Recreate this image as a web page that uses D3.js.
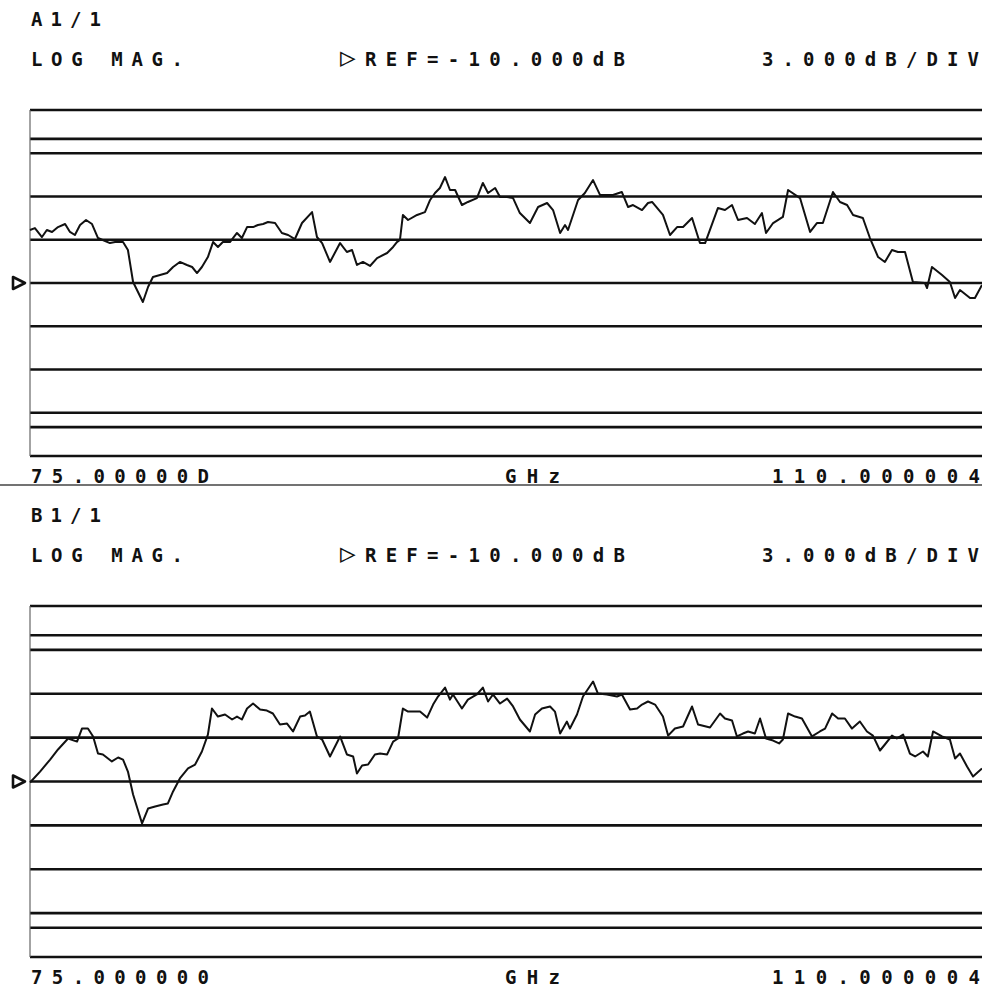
<!DOCTYPE html>
<html>
<head>
<meta charset="utf-8">
<script src="https://cdn.jsdelivr.net/npm/d3@7"></script>
<style>
  body { margin: 0; background: #fff; }
  text { font-family: "DejaVu Sans Mono", monospace; font-weight: bold; fill: #111; }
</style>
</head>
<body>
<div id="chart"></div>
<script>
const width = 982;
const height = 989;

// frequency sweep and scale settings
const fStart = 75, fStop = 110;
const refLevel = -10, dbPerDiv = 3, nDiv = 8;
const limitLines = [0, -20];

// trace A1/1 : [GHz, dB]
const traceA = [
  [75.00,-6.32],[75.18,-6.19],[75.44,-6.81],[75.62,-6.32],[75.81,-6.46],[76.03,-6.12],[76.29,-5.91],
  [76.47,-6.46],[76.65,-6.67],[76.84,-5.98],[77.06,-5.63],[77.28,-5.91],[77.50,-6.88],[77.94,-7.23],
  [78.13,-7.16],[78.42,-7.16],[78.60,-7.71],[78.79,-9.93],[79.15,-11.32],[79.34,-10.28],[79.52,-9.58],
  [79.78,-9.45],[80.04,-9.31],[80.26,-8.89],[80.51,-8.54],[80.77,-8.75],[80.96,-8.89],[81.14,-9.31],
  [81.32,-8.89],[81.54,-8.20],[81.73,-7.16],[81.91,-7.50],[82.09,-7.16],[82.35,-7.16],[82.61,-6.53],
  [82.79,-6.88],[82.98,-6.12],[83.20,-6.12],[83.38,-5.98],[83.57,-5.91],[83.75,-5.77],[84.01,-5.84],
  [84.26,-6.53],[84.49,-6.67],[84.74,-6.95],[85.00,-5.84],[85.37,-5.08],[85.55,-6.81],[85.74,-7.23],
  [86.03,-8.54],[86.40,-7.23],[86.65,-7.85],[86.84,-7.71],[87.02,-8.75],[87.24,-8.54],[87.50,-8.82],
  [87.76,-8.27],[88.13,-7.92],[88.35,-7.50],[88.49,-7.16],[88.60,-7.02],[88.71,-5.28],[88.90,-5.63],
  [89.23,-5.28],[89.52,-5.08],[89.71,-4.24],[89.89,-3.76],[90.07,-3.41],[90.26,-2.65],[90.44,-3.55],
  [90.63,-3.55],[90.88,-4.59],[91.10,-4.38],[91.43,-4.11],[91.65,-3.06],[91.84,-3.76],[92.10,-3.41],
  [92.28,-4.04],[92.54,-4.04],[92.76,-4.11],[93.01,-5.15],[93.38,-5.84],[93.68,-4.73],[94.01,-4.45],
  [94.23,-4.94],[94.49,-6.53],[94.67,-5.98],[94.78,-6.32],[95.15,-4.24],[95.40,-3.76],[95.70,-2.86],
  [95.96,-3.90],[96.21,-3.90],[96.43,-3.90],[96.76,-3.69],[96.99,-4.73],[97.17,-4.59],[97.50,-4.94],
  [97.72,-4.45],[97.87,-4.38],[98.27,-5.28],[98.53,-6.67],[98.79,-6.12],[99.01,-6.12],[99.34,-5.49],
  [99.63,-7.23],[99.82,-7.23],[100.29,-4.80],[100.55,-4.94],[100.81,-4.59],[101.03,-5.63],[101.36,-5.49],
  [101.65,-5.91],[101.91,-5.15],[102.06,-6.53],[102.32,-5.84],[102.68,-5.42],[102.87,-3.55],[103.31,-4.11],
  [103.68,-6.46],[103.93,-5.84],[104.15,-5.84],[104.52,-3.69],[104.78,-4.38],[105.04,-4.59],[105.26,-5.28],
  [105.62,-5.49],[105.88,-6.88],[106.18,-8.20],[106.43,-8.54],[106.69,-7.71],[106.91,-7.85],[107.17,-7.85],
  [107.46,-9.93],[107.90,-10.00],[107.98,-10.35],[108.16,-8.89],[108.53,-9.45],[108.82,-9.93],[109.01,-11.04],
  [109.19,-10.49],[109.56,-11.04],[109.74,-11.04],[110.00,-10.14]
];

// trace B1/1 : [GHz, dB]
const traceB = [
  [75.00,-10.07],[75.37,-9.32],[75.74,-8.50],[76.03,-7.81],[76.40,-7.06],[76.73,-7.27],[76.91,-6.38],
  [77.13,-6.38],[77.32,-6.92],[77.50,-8.09],[77.68,-8.15],[78.01,-8.63],[78.24,-8.36],[78.42,-8.50],
  [78.60,-9.32],[78.79,-10.89],[79.12,-12.87],[79.34,-11.85],[79.60,-11.71],[79.89,-11.57],[80.07,-11.50],
  [80.26,-10.68],[80.51,-9.79],[80.81,-9.11],[81.07,-8.84],[81.32,-7.95],[81.54,-6.79],[81.69,-5.01],
  [81.91,-5.56],[82.17,-5.42],[82.43,-5.76],[82.61,-5.56],[82.79,-5.76],[82.98,-5.01],[83.20,-4.67],
  [83.46,-5.08],[83.71,-5.15],[83.93,-5.35],[84.19,-6.10],[84.45,-6.04],[84.67,-6.58],[84.93,-5.56],
  [85.11,-5.49],[85.29,-5.22],[85.55,-6.92],[85.74,-7.13],[86.03,-8.29],[86.40,-6.92],[86.65,-8.15],
  [86.88,-8.29],[87.02,-9.45],[87.21,-8.91],[87.43,-8.84],[87.68,-8.15],[87.87,-8.09],[88.13,-8.15],
  [88.35,-7.27],[88.53,-7.06],[88.71,-5.01],[88.90,-5.22],[89.34,-5.22],[89.60,-5.63],[89.82,-4.74],
  [90.00,-4.19],[90.26,-3.58],[90.44,-4.40],[90.55,-4.05],[90.88,-5.01],[91.10,-4.40],[91.43,-4.05],
  [91.65,-3.58],[91.84,-4.53],[92.02,-4.05],[92.28,-4.67],[92.54,-4.33],[92.76,-4.87],[93.01,-5.76],
  [93.38,-6.58],[93.57,-5.42],[93.82,-5.01],[94.12,-4.87],[94.30,-5.22],[94.49,-6.72],[94.74,-5.90],
  [94.85,-6.38],[95.11,-5.42],[95.33,-4.19],[95.70,-3.16],[95.88,-3.99],[96.21,-4.05],[96.58,-4.19],
  [96.76,-4.05],[97.06,-5.08],[97.32,-5.01],[97.50,-4.74],[97.72,-4.53],[97.98,-4.74],[98.27,-5.56],
  [98.46,-6.86],[98.71,-6.38],[99.01,-6.24],[99.34,-4.87],[99.56,-6.10],[100.00,-6.31],[100.37,-5.35],
  [100.55,-5.69],[100.81,-5.83],[100.99,-6.92],[101.21,-6.72],[101.40,-6.58],[101.65,-6.72],[101.84,-5.69],
  [102.06,-7.06],[102.32,-7.20],[102.54,-7.40],[102.68,-7.13],[102.87,-5.35],[103.13,-5.56],[103.38,-5.69],
  [103.75,-6.92],[104.04,-6.58],[104.23,-6.38],[104.49,-5.35],[104.71,-5.69],[104.96,-5.69],[105.22,-6.38],
  [105.51,-5.90],[105.77,-6.58],[105.99,-6.86],[106.25,-7.88],[106.43,-7.47],[106.69,-6.86],[106.87,-7.06],
  [107.10,-6.79],[107.35,-8.09],[107.54,-8.29],[107.83,-7.95],[108.01,-8.29],[108.20,-6.58],[108.53,-6.92],
  [108.82,-7.13],[109.01,-8.43],[109.19,-8.09],[109.45,-8.97],[109.67,-9.66],[110.00,-9.11]
];

const panelNames = ["A1/1", "B1/1"];
const startLabels = ["75.00000D", "75.000000"];
const unitLabel = "GHz";
const stopLabel = "110.000004";

let svg = d3.select("#chart").append("svg")
    .attr("width", width)
    .attr("height", height);

const left = 30, right = 982;

let xScale = d3.scaleLinear()
    .domain([fStart, fStop])
    .range([left, right]);

// spaced-out printer text
function label(g, x, y, len, str) {
    return g.append("text")
        .attr("x", x).attr("y", y)
        .attr("textLength", len).attr("lengthAdjust", "spacing")
        .style("font-size", "19px")
        .text(str);
}

function drawPanel(top, bottom, name, data, startLabel) {
    const yMin = refLevel - dbPerDiv * nDiv / 2;
    const yMax = refLevel + dbPerDiv * nDiv / 2;
    let yScale = d3.scaleLinear()
        .domain([yMin, yMax])
        .range([bottom, top]);

    let g = svg.append("g");

    // header
    label(g, 31, top - 84, 70, name);
    label(g, 31, top - 44, 152, "LOG MAG.");
    let ref = g.append("text")
        .attr("x", 340).attr("y", top - 44)
        .attr("textLength", 285).attr("lengthAdjust", "spacing")
        .style("font-size", "19px");
    ref.append("tspan").style("font-size", "26px").text("\u25B7");
    ref.append("tspan").text("REF=" + refLevel.toFixed(3) + "dB");
    label(g, 762, top - 44, 217, dbPerDiv.toFixed(3) + "dB/DIV");

    // graticule: divisions plus limit lines
    let grid = d3.range(yMin, yMax + 0.01, dbPerDiv).concat(limitLines);
    g.selectAll("line.grid")
        .data(grid)
        .enter().append("line")
        .attr("class", "grid")
        .attr("x1", left).attr("x2", right)
        .attr("y1", d => yScale(d)).attr("y2", d => yScale(d))
        .attr("stroke", "#111")
        .attr("stroke-width", 2.6);

    // left frame edge
    g.append("line")
        .attr("x1", left).attr("x2", left)
        .attr("y1", top).attr("y2", bottom)
        .attr("stroke", "#666")
        .attr("stroke-width", 1.2);

    // reference marker
    const ry = yScale(refLevel);
    g.append("path")
        .attr("d", `M13,${ry - 6} L25,${ry} L13,${ry + 6} Z`)
        .attr("fill", "none")
        .attr("stroke", "#111")
        .attr("stroke-width", 2.6)
        .attr("stroke-linejoin", "round");

    // trace
    let line = d3.line()
        .x(d => xScale(d[0]))
        .y(d => yScale(d[1]));
    g.append("path")
        .datum(data)
        .attr("d", line)
        .attr("fill", "none")
        .attr("stroke", "#111")
        .attr("stroke-width", 2)
        .attr("stroke-linejoin", "round");

    // sweep labels
    label(g, 31, bottom + 27, 178, startLabel);
    label(g, 505, bottom + 27, 55, unitLabel);
    label(g, 772, bottom + 27, 208, stopLabel);
}

drawPanel(110, 456, panelNames[0], traceA, startLabels[0]);
drawPanel(606, 957, panelNames[1], traceB, startLabels[1]);

// divider under the first panel
svg.append("line")
    .attr("x1", 0).attr("x2", width)
    .attr("y1", 485).attr("y2", 485)
    .attr("stroke", "#444")
    .attr("stroke-width", 1.3);
</script>
</body>
</html>
